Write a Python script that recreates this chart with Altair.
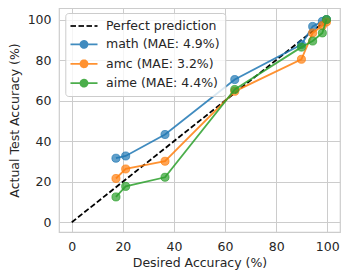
import altair as alt
import pandas as pd

desired = [17.3, 21.1, 36.5, 63.8, 89.9, 94.3, 98.1, 99.7]
math_acc = [31.6, 32.7, 43.3, 70.4, 87.7, 96.6, 99.1, 100.0]
amc_acc = [21.6, 26.3, 30.1, 64.6, 80.4, 93.4, 97.0, 98.8]
aime_acc = [12.5, 17.7, 22.2, 65.5, 86.4, 89.4, 93.4, 100.0]
perfect_x = [0, 100]
perfect_y = [0, 100]

perfect_label = "Perfect prediction"
series_labels = ["math (MAE: 4.9%)", "amc (MAE: 3.2%)", "aime (MAE: 4.4%)"]
series_values = [math_acc, amc_acc, aime_acc]
colors = ["#000000", "#1f77b4", "#ff7f0e", "#2ca02c"]

rows = []
for lab, vals in zip(series_labels, series_values):
    for d, a in zip(desired, vals):
        rows.append({"series": lab, "desired": d, "actual": a})
df = pd.DataFrame(rows)
df_perf = pd.DataFrame({"series": perfect_label, "desired": perfect_x, "actual": perfect_y})

domain_all = [perfect_label] + series_labels
color_scale = alt.Scale(domain=domain_all, range=colors)

circ_path = "M-1.93,0H-0.5M0.5,0H1.93M-0.5,0A0.5,0.5,0,1,0,0.5,0A0.5,0.5,0,1,0,-0.5,0"
line_path = "M-1.93,0H1.93"
is_perf = "datum.value == 'Perfect prediction'"

FONT = "DejaVu Sans"
FS = 12.5

legend = alt.Legend(
    title=None,
    orient="none",
    legendX=6.3,
    legendY=5,
    symbolType={"expr": f"{is_perf} ? '{line_path}' : '{circ_path}'"},
    symbolDash={"expr": f"{is_perf} ? [5.5, 2.5] : [1, 0]"},
    symbolFillColor={"expr": f"{is_perf} ? 'transparent' : scale('color', datum.value)"},
    symbolSize=196,
    symbolStrokeWidth=1.8,
    symbolOpacity=0.85,
    symbolOffset=5.7,
    labelOffset=14,
    rowPadding=3.4,
    padding=5,
    labelFont=FONT,
    labelFontSize=FS,
    labelColor="#262626",
    strokeColor="#cccccc",
    fillColor="rgba(255,255,255,0.8)",
    cornerRadius=3,
)

x_enc = alt.X(
    "desired:Q",
    scale=alt.Scale(domain=[-5, 105], nice=False, zero=False),
    axis=alt.Axis(values=[0, 20, 40, 60, 80, 100], title="Desired Accuracy (%)",
                  labelPadding=8, titlePadding=4),
)
y_enc = alt.Y(
    "actual:Q",
    scale=alt.Scale(domain=[-4.8, 105.7], nice=False, zero=False),
    axis=alt.Axis(values=[0, 20, 40, 60, 80, 100], title="Actual Test Accuracy (%)",
                  labelPadding=8, titlePadding=6),
)
color_enc = alt.Color("series:N", scale=color_scale, legend=legend)

layers = [
    alt.Chart(df_perf).mark_line(strokeDash=[5.5, 2.5], strokeWidth=1.8).encode(
        x=x_enc, y=y_enc, color=color_enc
    )
]
for lab in series_labels:
    sub = alt.Chart(df).transform_filter(alt.datum.series == lab)
    layers.append(
        sub.mark_line(strokeWidth=1.8, opacity=0.85).encode(x=x_enc, y=y_enc, color=color_enc)
    )
    layers.append(
        sub.mark_circle(size=65, fillOpacity=0.7, strokeOpacity=0.7, strokeWidth=1).encode(
            x=x_enc, y=y_enc, color=color_enc,
            stroke=alt.Stroke("series:N", scale=color_scale, legend=None),
        )
    )

chart = alt.layer(*layers).properties(
    width=281,
    height=224,
    autosize=alt.AutoSizeParams(type="none"),
    padding={"left": 51, "top": 0, "right": 1, "bottom": 40},
).configure_view(
    stroke="#cccccc", strokeWidth=1.2
).configure_axis(
    grid=True, gridColor="#cccccc", gridWidth=1, domain=False, ticks=False,
    labelFont=FONT, labelFontSize=FS, labelColor="#262626",
    titleFont=FONT, titleFontSize=FS, titleFontWeight="normal", titleColor="#262626",
)

chart.save("out.html", embed_options={"renderer": "svg", "actions": False})
